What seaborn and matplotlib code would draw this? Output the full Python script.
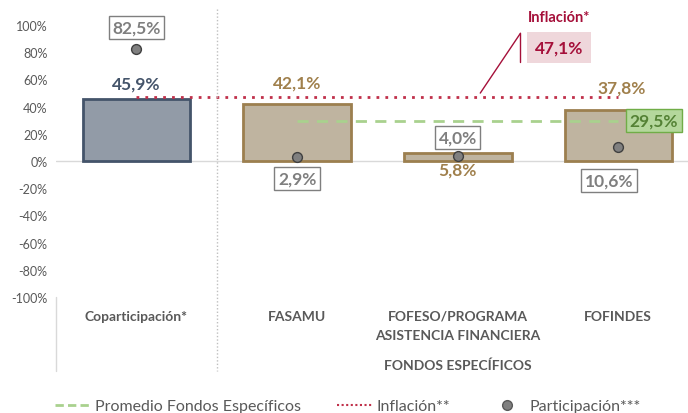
import pandas as pd
import matplotlib.pyplot as plt
import seaborn as sns
from matplotlib.lines import Line2D

# datos
categorias = ["Coparticipación*", "FASAMU", "FOFESO/PROGRAMA\nASISTENCIA FINANCIERA", "FOFINDES"]
crecimiento = [45.9, 42.1, 5.8, 37.8]
participacion = [82.5, 2.9, 4.0, 10.6]
inflacion = 47.1
promedio_fondos = 29.5
yticks = list(range(-100, 101, 20))

sns.set_theme(style="white")
plt.rcParams['font.family'] = ['Lato', 'DejaVu Sans']

GRIS = "#595959"
AZUL = "#44546A"
ORO = "#A0804C"
ROJO = "#A5103A"
VERDE = "#A9D18E"

df = pd.DataFrame({"cat": categorias, "crec": crecimiento, "part": participacion})

fig = plt.figure(figsize=(6.88, 4.14), dpi=100)
ax = fig.add_axes([56 / 688, 0.280, 0.918, 0.657])

sns.barplot(data=df, x="cat", y="crec", hue="cat",
            palette=["#8E9AAB", "#C4B59B", "#C4B59B", "#C4B59B"],
            width=0.67, legend=False, ax=ax, zorder=2)
for i, p in enumerate(ax.patches):
    p.set_edgecolor(AZUL if i == 0 else "#9C7F4F")
    p.set_linewidth(2)

ax.axhline(0, color="#D9D9D9", lw=1, zorder=1)

# inflacion y promedio
ax.hlines(inflacion, 0, 3, colors="#C0304A", linestyles=(0, (1, 2.2)), lw=2, zorder=3)
ax.hlines(promedio_fondos, 1, 3, colors=VERDE, linestyles=(0, (4, 3)), lw=2, zorder=3)

sns.scatterplot(data=df, x="cat", y="part", color="#808080", edgecolor="#404040",
                s=50, linewidth=1, ax=ax, zorder=4, legend=False)

ax.set_xlim(-0.5, 3.43)
ax.set_ylim(-100, 100)
ax.set_yticks(yticks)
ax.set_yticklabels([f"{v}%" for v in yticks], color=GRIS, fontsize=9)
ax.set_xticks([])
ax.set_xlabel("")
ax.set_ylabel("")
for s in ax.spines.values():
    s.set_visible(False)
ax.tick_params(axis="y", length=0, pad=6)

fmt = lambda v: f"{v:.1f}%".replace(".", ",")

# etiquetas de barras
bar_lbl_y = [57, 58, -6, 54]
bar_lbl_x = [0, 1, 2, 3.02]
for i, v in enumerate(crecimiento):
    ax.text(bar_lbl_x[i], bar_lbl_y[i], fmt(v), ha="center", va="center",
            fontsize=12.5, fontweight="bold", color=AZUL if i == 0 else ORO, zorder=5)

# etiquetas de participacion
part_lbl_y = [98, -13, 17, -14]
part_lbl_x = [0, 1, 2, 2.94]
for i, v in enumerate(participacion):
    ax.text(part_lbl_x[i], part_lbl_y[i], fmt(v), ha="center", va="center",
            fontsize=12.5, fontweight="bold", color="#7F7F7F", zorder=5, clip_on=False,
            bbox=dict(boxstyle="square,pad=0.2", fc="white", ec="#7F7F7F", lw=1))

# etiqueta promedio
ax.text(3.22, promedio_fondos, fmt(promedio_fondos), ha="center", va="center",
        fontsize=12.5, fontweight="bold", color="#548235", zorder=5,
        bbox=dict(boxstyle="square,pad=0.2", fc="#B4D79C", ec="#70AD47", lw=1))

# etiqueta inflacion
ax.plot([2.14, 2.39], [50, 94], color=ROJO, lw=1, clip_on=False, zorder=5)
ax.plot([2.39, 2.39], [73, 94], color=ROJO, lw=1, clip_on=False, zorder=5)
ax.text(2.63, 83.5, fmt(inflacion), ha="center", va="center", fontsize=12.5,
        fontweight="bold", color=ROJO, clip_on=False, zorder=5,
        bbox=dict(boxstyle="square,pad=0.45", fc="#EFD7DB", ec="none"))
ax.text(2.63, 106, "Inflación*", ha="center", va="center", fontsize=10.5,
        fontweight="bold", color=ROJO, clip_on=False)

# eje de categorias
for i, c in enumerate(categorias):
    fig.text((136 + 160.7 * i) / 688, 1 - 311 / 414, c, ha="center", va="top",
             fontsize=10, fontweight="bold", color=GRIS, linespacing=1.7)
fig.text(458 / 688, 1 - 366 / 414, "FONDOS ESPECÍFICOS", ha="center", va="center",
         fontsize=10, fontweight="bold", color=GRIS)
fig.add_artist(Line2D([56 / 688, 56 / 688], [1 - 298 / 414, 1 - 372 / 414],
                      color="#D9D9D9", lw=1))
fig.add_artist(Line2D([217 / 688, 217 / 688], [1 - 10 / 414, 1 - 372 / 414],
                      color="#BFBFBF", lw=1, ls=(0, (1, 1.5))))

# leyenda
entradas = [
    (Line2D([], [], color=VERDE, lw=2, ls=(0, (3, 1.5))), "Promedio Fondos Específicos", 55, 2.2, 0.3),
    (Line2D([], [], color="#C0304A", lw=1.5, ls=(0, (1, 1.2))), "Inflación**", 337, 2.2, 0.3),
    (Line2D([], [], color="#808080", marker="o", ls="none", markersize=7,
            markeredgecolor="#595959"), "Participación***", 494, 1.6, 0.6),
]
for h, lbl, x0, hl, tp in entradas:
    fig.legend([h], [lbl], loc="center left", bbox_to_anchor=(x0 / 688, 1 - 407 / 414),
               frameon=False, fontsize=11.5, labelcolor=GRIS, handlelength=hl,
               handletextpad=tp, borderaxespad=0, borderpad=0)

fig.savefig("out.png", dpi=100)
